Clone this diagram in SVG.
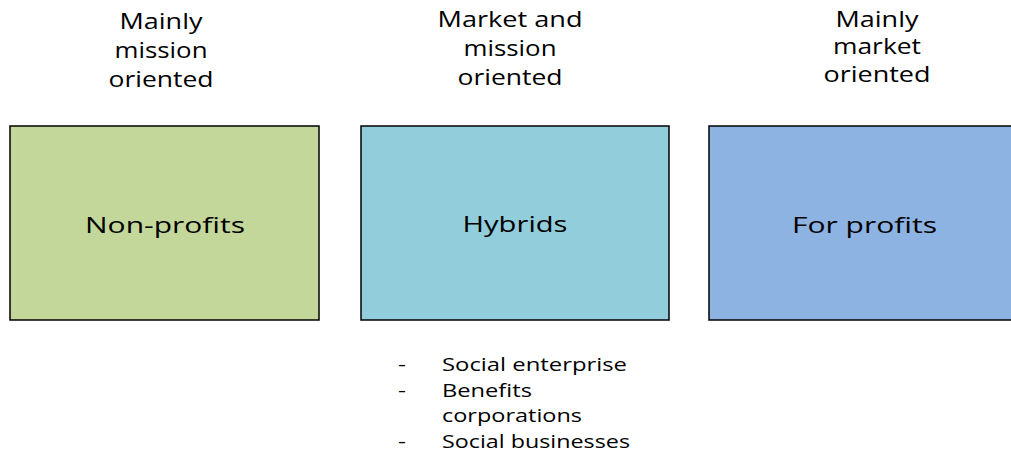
<svg xmlns="http://www.w3.org/2000/svg" width="1011" height="455" viewBox="0 0 1011 455">
<style>
text{font-family:"Open Sans","Liberation Sans",sans-serif;fill:#000;}
.h{font-size:21px;text-anchor:middle;}
.b{font-size:22.5px;text-anchor:middle;}
.l{font-size:18.5px;}
.box{stroke:#000;stroke-width:1.5;}
</style>
<rect width="1011" height="455" fill="#fff"/>
<g id="header-mission">
<text class="h" x="161" y="29" textLength="83" lengthAdjust="spacingAndGlyphs">Mainly</text>
<text class="h" x="161" y="58" textLength="93" lengthAdjust="spacingAndGlyphs">mission</text>
<text class="h" x="161" y="87" textLength="105" lengthAdjust="spacingAndGlyphs">oriented</text>
</g>
<g id="header-hybrid">
<text class="h" x="510" y="27" textLength="145" lengthAdjust="spacingAndGlyphs">Market and</text>
<text class="h" x="510" y="56" textLength="93" lengthAdjust="spacingAndGlyphs">mission</text>
<text class="h" x="510" y="85" textLength="105" lengthAdjust="spacingAndGlyphs">oriented</text>
</g>
<g id="header-market">
<text class="h" x="877" y="27" textLength="83" lengthAdjust="spacingAndGlyphs">Mainly</text>
<text class="h" x="877" y="54" textLength="88" lengthAdjust="spacingAndGlyphs">market</text>
<text class="h" x="877" y="82" textLength="107" lengthAdjust="spacingAndGlyphs">oriented</text>
</g>
<g id="node-nonprofits">
<rect class="box" x="10" y="126" width="309" height="194" fill="#C4D79B"/>
<text class="b" x="165" y="233" textLength="160" lengthAdjust="spacingAndGlyphs">Non-profits</text>
</g>
<g id="node-hybrids">
<rect class="box" x="361" y="126" width="308" height="194" fill="#92CDDC"/>
<text class="b" x="515" y="232" textLength="105" lengthAdjust="spacingAndGlyphs">Hybrids</text>
</g>
<g id="node-forprofits">
<rect class="box" x="709" y="126" width="320" height="194" fill="#8DB3E2"/>
<text class="b" x="864.5" y="233" textLength="145" lengthAdjust="spacingAndGlyphs">For profits</text>
</g>
<g id="connectors"></g>
<g id="hybrid-list">
<text class="l" x="398" y="371" textLength="8" lengthAdjust="spacingAndGlyphs">-</text>
<text class="l" x="442" y="371" textLength="185" lengthAdjust="spacingAndGlyphs">Social enterprise</text>
<text class="l" x="398" y="396.5" textLength="8" lengthAdjust="spacingAndGlyphs">-</text>
<text class="l" x="442" y="396.5" textLength="90" lengthAdjust="spacingAndGlyphs">Benefits</text>
<text class="l" x="442" y="422" textLength="140" lengthAdjust="spacingAndGlyphs">corporations</text>
<text class="l" x="398" y="447.5" textLength="8" lengthAdjust="spacingAndGlyphs">-</text>
<text class="l" x="442" y="447.5" textLength="188" lengthAdjust="spacingAndGlyphs">Social businesses</text>
</g>
</svg>
